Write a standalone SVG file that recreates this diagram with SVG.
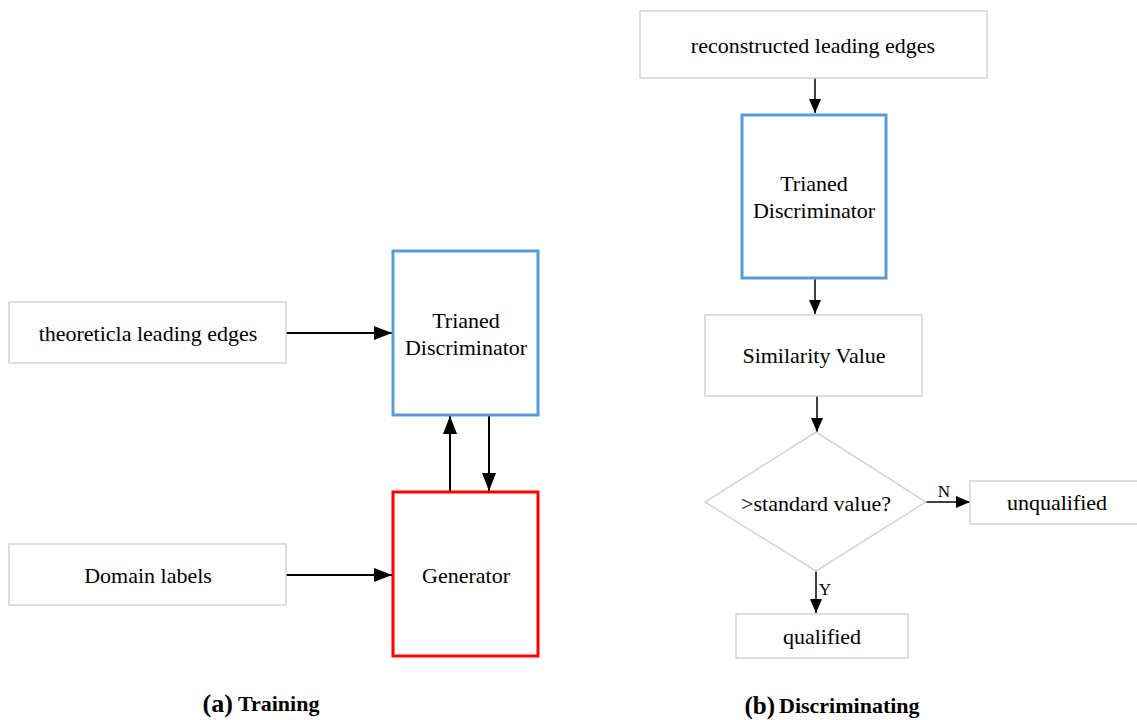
<svg xmlns="http://www.w3.org/2000/svg" width="1137" height="720" viewBox="0 0 1137 720">
<defs>
<style>
text{font-family:"Liberation Serif","Times New Roman",serif;font-size:22px;fill:#000;text-anchor:middle;dominant-baseline:central}
.box{fill:#fff;stroke:#d4d4d4;stroke-width:1.5}
.blue{fill:#fff;stroke:#5b9bd5;stroke-width:3}
.red{fill:#fff;stroke:#ff0000;stroke-width:3}
.c{stroke:#000;stroke-width:2;fill:none}
.c2{stroke:#000;stroke-width:1.5;fill:none}
.cap{font-weight:bold}
</style>
<marker id="ah" markerWidth="18" markerHeight="14" refX="18" refY="7" orient="auto" markerUnits="userSpaceOnUse"><path d="M0,0 L18,7 L0,14 Z" fill="#000"/></marker>
<marker id="ah2" markerWidth="14" markerHeight="12" refX="14" refY="6" orient="auto" markerUnits="userSpaceOnUse"><path d="M0,0 L14,6 L0,12 Z" fill="#000"/></marker>
</defs>
<rect width="1137" height="720" fill="#fff"/>

<g id="connectors">
<line class="c" x1="286" y1="333" x2="392" y2="333" marker-end="url(#ah)"/>
<line class="c" x1="286" y1="575" x2="392" y2="575" marker-end="url(#ah)"/>
<line class="c" x1="450" y1="492" x2="450" y2="416" marker-end="url(#ah)"/>
<line class="c" x1="489" y1="415" x2="489" y2="491" marker-end="url(#ah)"/>
<line class="c2" x1="815" y1="78" x2="815" y2="113" marker-end="url(#ah2)"/>
<line class="c2" x1="815" y1="278" x2="815" y2="314" marker-end="url(#ah2)"/>
<line class="c2" x1="817" y1="396" x2="817" y2="432" marker-end="url(#ah2)"/>
<line class="c2" x1="926" y1="502" x2="970" y2="502" marker-end="url(#ah2)"/>
<line class="c2" x1="816" y1="571" x2="816" y2="613" marker-end="url(#ah2)"/>
<text x="944" y="491" style="font-size:17px">N</text>
<text x="825" y="589" style="font-size:17px">Y</text>
</g>

<g id="theoretical">
<rect class="box" x="9" y="302" width="277" height="61"/>
<text x="148" y="333">theoreticla leading edges</text>
</g>
<g id="domain">
<rect class="box" x="9" y="544" width="277" height="61"/>
<text x="148" y="575">Domain labels</text>
</g>
<g id="discriminator-a">
<rect class="blue" x="393" y="251" width="145" height="164"/>
<text x="466" y="320">Trianed</text>
<text x="466" y="347">Discriminator</text>
</g>
<g id="generator">
<rect class="red" x="393" y="492" width="145" height="164"/>
<text x="466" y="575">Generator</text>
</g>
<g id="caption-a">
<text x="261" y="703" class="cap"><tspan style="font-size:26px">(a)</tspan> <tspan style="font-size:22px">Training</tspan></text>
</g>

<g id="reconstructed">
<rect class="box" x="640" y="11" width="347" height="67"/>
<text x="813" y="45">reconstructed leading edges</text>
</g>
<g id="discriminator-b">
<rect class="blue" x="742" y="115" width="144" height="163"/>
<text x="814" y="183">Trianed</text>
<text x="814" y="210">Discriminator</text>
</g>
<g id="similarity">
<rect class="box" x="705" y="315" width="217" height="81"/>
<text x="814" y="355">Similarity Value</text>
</g>
<g id="decision">
<polygon class="box" points="816,432 926,502 816,571 705,502"/>
<text x="816" y="503">&gt;standard value?</text>
</g>
<g id="unqualified">
<rect class="box" x="970" y="481" width="170" height="43"/>
<text x="1057" y="502">unqualified</text>
</g>
<g id="qualified">
<rect class="box" x="736" y="614" width="172" height="44"/>
<text x="822" y="636">qualified</text>
</g>
<g id="caption-b">
<text x="832" y="705" class="cap"><tspan style="font-size:25px">(b)</tspan><tspan style="font-size:22px" dx="4">Discriminating</tspan></text>
</g>
</svg>
